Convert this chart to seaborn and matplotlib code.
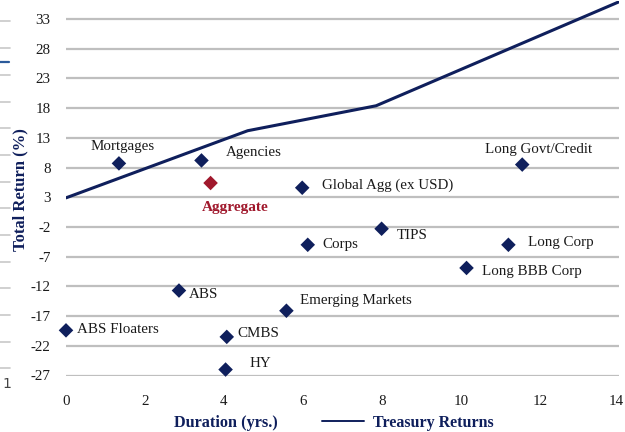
import matplotlib
matplotlib.use("Agg")
import matplotlib.pyplot as plt
import matplotlib.transforms as mtransforms
from matplotlib.lines import Line2D
import seaborn as sns
import pandas as pd

# ---- data ----
sectors = ["Mortgages", "Agencies", "Aggregate", "Global Agg (ex USD)", "Long Govt/Credit",
           "Corps", "TIPS", "Long Corp", "Long BBB Corp", "ABS", "Emerging Markets",
           "ABS Floaters", "CMBS", "HY"]
duration = [1.34, 3.43, 3.66, 5.98, 11.55, 6.12, 7.99, 11.2, 10.14, 2.86, 5.58, 0.0, 4.07, 4.04]
total_return = [8.7, 9.2, 5.4, 4.6, 8.5, -5.0, -2.3, -5.0, -8.9, -12.7, -16.1, -19.4, -20.5, -26.0]

treasury_duration = [0.0, 4.6, 7.85, 14.0]
treasury_return = [2.9, 14.2, 18.4, 35.9]

y_ticks = [-27, -22, -17, -12, -7, -2, 3, 8, 13, 18, 23, 28, 33]
x_ticks = [0, 2, 4, 6, 8, 10, 12, 14]

# ---- styles ----
NAVY = "#0f1f5c"
RED = "#a0182c"
GRID = "#bfbfbf"
# label offsets in data units (dx, dy, ha)
label_style = {
    "Mortgages": (0.08, 2.9, "center"),
    "Agencies": (0.62, 1.3, "left"),
    "Aggregate": (0.62, -4.2, "center"),
    "Global Agg (ex USD)": (0.5, 0.5, "left"),
    "Long Govt/Credit": (0.42, 2.5, "center"),
    "Corps": (0.38, 0.0, "left"),
    "TIPS": (0.38, -1.2, "left"),
    "Long Corp": (0.5, 0.4, "left"),
    "Long BBB Corp": (0.38, -0.6, "left"),
    "ABS": (0.25, -0.7, "left"),
    "Emerging Markets": (0.34, 1.7, "left"),
    "ABS Floaters": (0.28, 0.1, "left"),
    "CMBS": (0.26, 0.6, "left"),
    "HY": (0.6, 1.0, "left"),
}

sns.set_theme(style="white")
plt.rcParams["font.family"] = ["Liberation Serif", "DejaVu Serif"]
plt.rcParams["axes.unicode_minus"] = False

fig = plt.figure(figsize=(6.25, 4.32), dpi=100)
ax = fig.add_axes([66 / 625, 1 - 375.5 / 432, 553 / 625, (375.5 - 1.2) / 432])

df = pd.DataFrame({"Duration": duration, "Return": total_return, "Sector": sectors})
colors = {s: (RED if s == "Aggregate" else NAVY) for s in sectors}

for yt in y_ticks:
    ax.axhline(yt, color=GRID, lw=1.6, zorder=0)

sns.lineplot(x=treasury_duration, y=treasury_return, ax=ax, color=NAVY, lw=2.2,
             label="Treasury Returns", zorder=3)
sns.scatterplot(data=df, x="Duration", y="Return", hue="Sector", palette=colors,
                marker="D", s=55, edgecolor="none", ax=ax, legend=False, zorder=4, clip_on=False)

for s, x, y in zip(sectors, duration, total_return):
    dx, dy, ha = label_style[s]
    if s == "Aggregate":
        ax.text(x + dx, y + dy, s, color=RED, fontsize=11, fontweight="bold", ha=ha, va="center")
    else:
        ax.text(x + dx, y + dy, s, color="#1a1a1a", fontsize=10.8, ha=ha, va="center")

ax.set_xlim(0, 14)
ax.set_ylim(-27, 36)
ax.set_xticks(x_ticks)
ax.set_yticks(y_ticks)
ax.tick_params(axis="both", length=0, labelsize=10.8, colors="#1a1a1a")
ax.tick_params(axis="x", pad=14)
ax.tick_params(axis="y", pad=11)
for sp in ax.spines.values():
    sp.set_visible(False)
ax.set_xlabel("")
ax.set_ylabel("")

# keep the last x tick label inside the canvas
fig.canvas.draw()
last = ax.get_xticklabels()[-1]
last.set_transform(last.get_transform() + mtransforms.ScaledTranslation(-3 / 100, 0, fig.dpi_scale_trans))

fig.text(20 / 625, 1 - 190 / 432, "Total Return (%)", rotation=90, ha="center", va="center",
         color=NAVY, fontsize=12, fontweight="bold")
fig.text(226 / 625, 1 - 423 / 432, "Duration (yrs.)", ha="center", va="center",
         color=NAVY, fontsize=11.7, fontweight="bold")
leg = ax.legend(loc="center left", bbox_to_anchor=(322 / 625, 1 - 423 / 432),
                bbox_transform=fig.transFigure, frameon=False, handlelength=2.6,
                handletextpad=0.62, borderaxespad=0, borderpad=0,
                prop={"family": "Liberation Serif", "weight": "bold", "size": 11.5})
for t in leg.get_texts():
    t.set_color(NAVY)
for h in leg.get_lines():
    h.set_linewidth(1.4)

# cropped remnants at the far left edge
for py in [21, 48, 75, 102, 128, 155, 182, 208, 235, 262, 288, 315, 342, 368]:
    fig.add_artist(Line2D([0, 10 / 625], [1 - py / 432] * 2, color="#c8c8c8", lw=1.2))
fig.add_artist(Line2D([0, 9 / 625], [1 - 62 / 432] * 2, color="#2b5a9a", lw=1.6))
fig.text(7 / 625, 1 - 384 / 432, "1", ha="center", va="center", fontsize=10,
         family="DejaVu Sans", color="#444444")

fig.savefig("out.png", dpi=100)
